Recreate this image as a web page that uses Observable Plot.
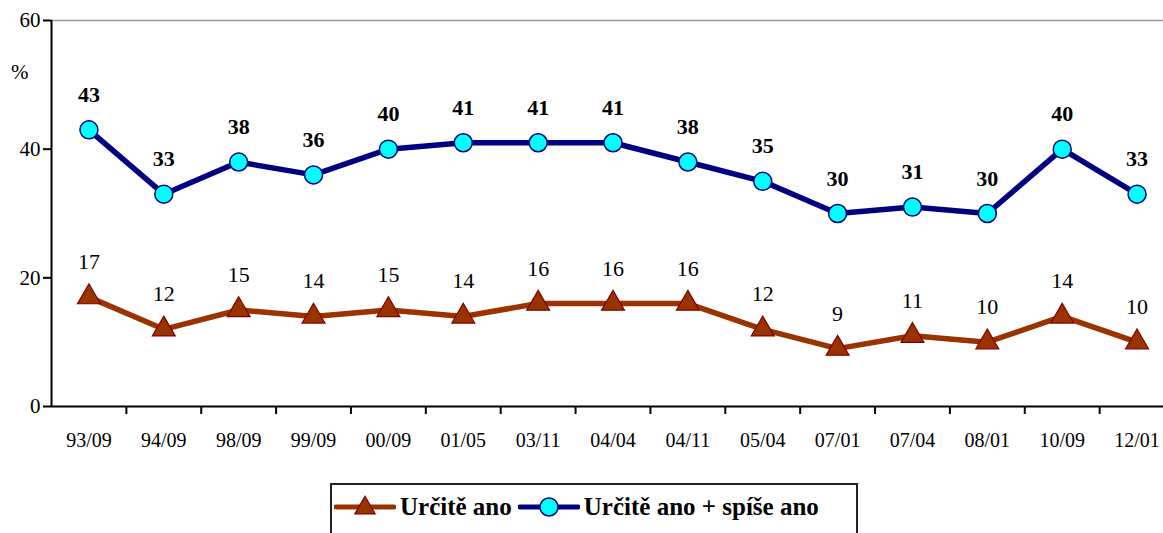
<!DOCTYPE html>
<html>
<head>
<meta charset="utf-8">
<script src="https://cdn.jsdelivr.net/npm/d3@7"></script>
<script src="https://cdn.jsdelivr.net/npm/@observablehq/plot@0.6"></script>
<style>
  html, body { margin: 0; padding: 0; background: #fff; overflow: hidden; }
  #wrap { position: relative; width: 1163px; height: 533px; font-family: 'Liberation Serif', 'Tinos', 'DejaVu Serif', serif; }
  #pct { position: absolute; left: 11px; top: 60px; font-size: 21px; }
  #legend { position: absolute; left: 330px; top: 483px; width: 528px; height: 60px; border: 2px solid #222; box-sizing: border-box;
            display: flex; align-items: flex-start; padding-top: 8px; font-weight: bold; font-size: 25px; white-space: nowrap; }
  #legend .item { display: flex; align-items: center; }
  #legend svg { display: block; }
  svg text { font-family: 'Liberation Serif', 'Tinos', 'DejaVu Serif', serif; }
</style>
</head>
<body>
<div id="wrap">
  <div id="chart"></div>
  <div id="pct">%</div>
  <div id="legend"></div>
</div>
<script>
const categories = ["93/09","94/09","98/09","99/09","00/09","01/05","03/11","04/04","04/11","05/04","07/01","07/04","08/01","10/09","12/01"];
const urciteAno = [17,12,15,14,15,14,16,16,16,12,9,11,10,14,10];
const urciteSpiseAno = [43,33,38,36,40,41,41,41,38,35,30,31,30,40,33];
const yTicks = [0,20,40,60];
const seriesNames = ["Určitě ano", "Určitě ano + spíše ano"];

const brown = "#993300", brownDark = "#800000", navy = "#000080", cyan = "#00FFFF";
const serif = "'Liberation Serif', 'Tinos', 'DejaVu Serif', serif";

const idx = categories.map((_, i) => i);
const bounds = categories.slice(0, -1).map((_, i) => i + 0.5);
const dataA = idx.map(i => ({i, v: urciteAno[i]}));
const dataB = idx.map(i => ({i, v: urciteSpiseAno[i]}));

const chart = Plot.plot({
  width: 1163,
  height: 470,
  marginTop: 20,
  marginBottom: 64,
  marginLeft: 51,
  marginRight: 0,
  style: { fontFamily: serif, background: "#fff", color: "#000" },
  x: { type: "linear", domain: [-0.5, categories.length - 0.5], range: [51, 1174] },
  y: { domain: [0, 60], range: [406, 20] },
  marks: [
    Plot.ruleY([60], { stroke: "#999", strokeWidth: 1.5 }),
    Plot.axisY({ ticks: yTicks, tickSize: 8, tickPadding: 3, fontSize: 21, stroke: "#000", strokeWidth: 2, label: null }),
    Plot.axisX({ ticks: bounds, tickSize: 8, tickFormat: () => "", stroke: "#000", strokeWidth: 2, label: null }),
    Plot.axisX({ ticks: idx, tickSize: 0, tickPadding: 26, fontSize: 20, tickFormat: i => categories[i], label: null }),
    Plot.ruleX([-0.5], { stroke: "#000", strokeWidth: 2 }),
    Plot.ruleY([0], { stroke: "#000", strokeWidth: 2 }),
    Plot.line(dataA, { x: "i", y: "v", stroke: brown, strokeWidth: 5.5, strokeLinejoin: "round", curve: "linear" }),
    Plot.line(dataB, { x: "i", y: "v", stroke: navy, strokeWidth: 5.5, strokeLinejoin: "round", curve: "linear" }),
    Plot.dot(dataA, { x: "i", y: "v", symbol: "triangle", r: 8.5, fill: brown, stroke: brownDark, strokeWidth: 1.2 }),
    Plot.dot(dataB, { x: "i", y: "v", symbol: "circle", r: 9, fill: cyan, stroke: navy, strokeWidth: 1.5 }),
    Plot.text(dataA, { x: "i", y: "v", text: d => String(d.v), dy: -35, fontSize: 22, fill: "#000" }),
    Plot.text(dataB, { x: "i", y: "v", text: d => String(d.v), dy: -35, fontSize: 22, fontWeight: "bold", fill: "#000" })
  ]
});
document.getElementById("chart").appendChild(chart);

// legend
const legend = d3.select("#legend");
const sw = [
  { name: seriesNames[0], color: brown, sym: "triangle" },
  { name: seriesNames[1], color: navy, sym: "circle" }
];
sw.forEach((s, k) => {
  const it = legend.append("div").attr("class", "item").style("margin-left", k === 0 ? "2px" : "6px");
  const svg = it.append("svg").attr("width", 62).attr("height", 26);
  svg.append("line").attr("x1", 2).attr("x2", 60).attr("y1", 13).attr("y2", 13)
    .attr("stroke", s.color).attr("stroke-width", 5).attr("stroke-linecap", "round");
  if (s.sym === "triangle") {
    svg.append("path").attr("transform", "translate(31,14)")
      .attr("d", d3.symbol(d3.symbolTriangle, 180)())
      .attr("fill", brown).attr("stroke", brownDark).attr("stroke-width", 1.2);
  } else {
    svg.append("circle").attr("cx", 31).attr("cy", 13).attr("r", 9)
      .attr("fill", cyan).attr("stroke", navy).attr("stroke-width", 1.5);
  }
  it.append("span").text(s.name).style("margin-left", "4px");
});
</script>
</body>
</html>
